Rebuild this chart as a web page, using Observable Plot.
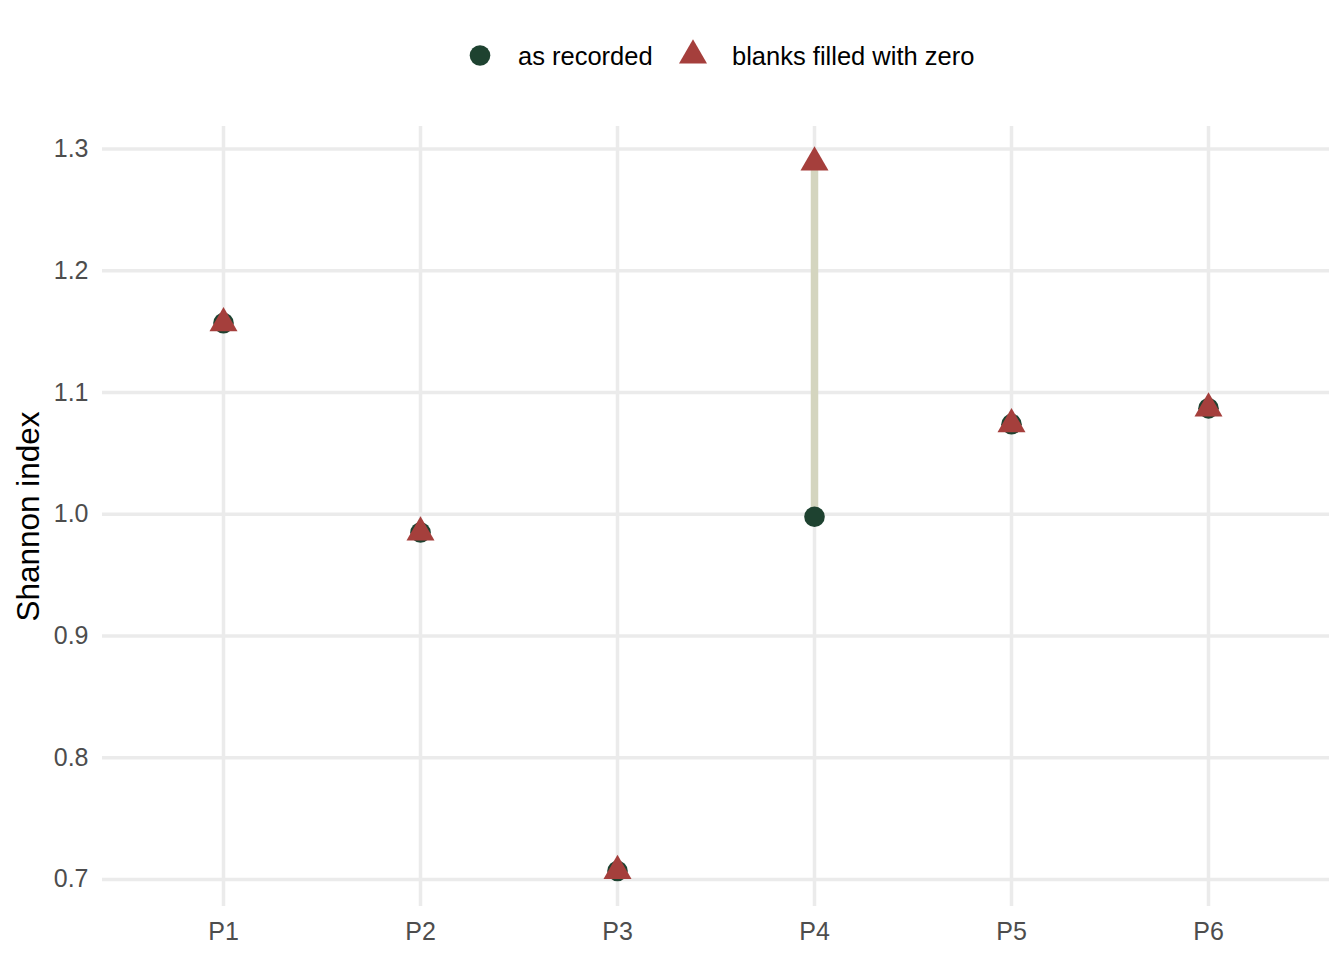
<!DOCTYPE html>
<html>
<head>
<meta charset="utf-8">
<script src="https://cdn.jsdelivr.net/npm/d3@7"></script>
<script src="https://cdn.jsdelivr.net/npm/@observablehq/plot@0.6"></script>
<style>
  html, body { margin: 0; padding: 0; background: white; }
  #legend, #legend svg { display: block; height: 100px; }
  #chart svg { display: block; }
</style>
</head>
<body>
<div id="legend"></div>
<div id="chart"></div>
<script>
const sites = ["P1", "P2", "P3", "P4", "P5", "P6"];
const asRecorded = [1.157, 0.985, 0.707, 0.998, 1.074, 1.087];
const blanksZero = [1.157, 0.985, 0.707, 1.289, 1.074, 1.087];
const yTicks = [0.7, 0.8, 0.9, 1.0, 1.1, 1.2, 1.3];
const seriesNames = ["as recorded", "blanks filled with zero"];
const colors = { recorded: "#1E4230", filled: "#A53F3C", segment: "#D4D5BF", grid: "#EBEBEB" };

const rows = sites.map((s, i) => ({ site: s, recorded: asRecorded[i], filled: blanksZero[i] }));

const font = "'Liberation Sans', Arial, Helvetica, sans-serif";

// Legend (above the plot)
const NS = "http://www.w3.org/2000/svg";
const lg = d3.select("#legend").append("svg")
  .attr("xmlns", NS).attr("width", 1344).attr("height", 100)
  .style("font-family", font);
lg.append("circle").attr("cx", 480).attr("cy", 55.5).attr("r", 10.3).attr("fill", colors.recorded);
lg.append("text").attr("x", 518).attr("y", 64.5).attr("font-size", 25.5).attr("fill", "black").text(seriesNames[0]);
lg.append("path").attr("transform", "translate(693,55.5)")
  .attr("d", d3.symbol(d3.symbolTriangle, 340)()).attr("fill", colors.filled);
lg.append("text").attr("x", 732).attr("y", 64.5).attr("font-size", 25.5).attr("fill", "black").text(seriesNames[1]);

const chart = Plot.plot({
  width: 1344,
  height: 860,
  marginTop: 26,
  marginBottom: 54,
  marginLeft: 102,
  marginRight: 15,
  style: { fontFamily: font, background: "white", overflow: "visible" },
  x: { type: "point", domain: sites, padding: 0.6 },
  y: { domain: [0.6778, 1.3185] },
  marks: [
    Plot.gridY(yTicks, { stroke: colors.grid, strokeOpacity: 1, strokeWidth: 3.5 }),
    Plot.gridX(sites, { stroke: colors.grid, strokeOpacity: 1, strokeWidth: 3.5 }),
    Plot.axisY(yTicks, { tickSize: 0, tickPadding: 14, fontSize: 25, color: "#4D4D4D", tickFormat: d3.format(".1f"), label: null }),
    Plot.axisX(sites, { tickSize: 0, tickPadding: 16, fontSize: 25, color: "#4D4D4D", label: null }),
    Plot.ruleX(rows, { x: "site", y1: "recorded", y2: "filled", stroke: colors.segment, strokeWidth: 7.5 }),
    Plot.dot(rows, { x: "site", y: "recorded", r: 10.3, fill: colors.recorded, symbol: "circle" }),
    Plot.dot(rows, { x: "site", y: "filled", r: 10.4, fill: colors.filled, symbol: "triangle" }),
    Plot.text(["Shannon index"], { text: d => d, frameAnchor: "left", textAnchor: "middle", dx: -74, rotate: -90, fontSize: 31.5, fill: "black" })
  ]
});
document.getElementById("chart").appendChild(chart);
</script>
</body>
</html>
